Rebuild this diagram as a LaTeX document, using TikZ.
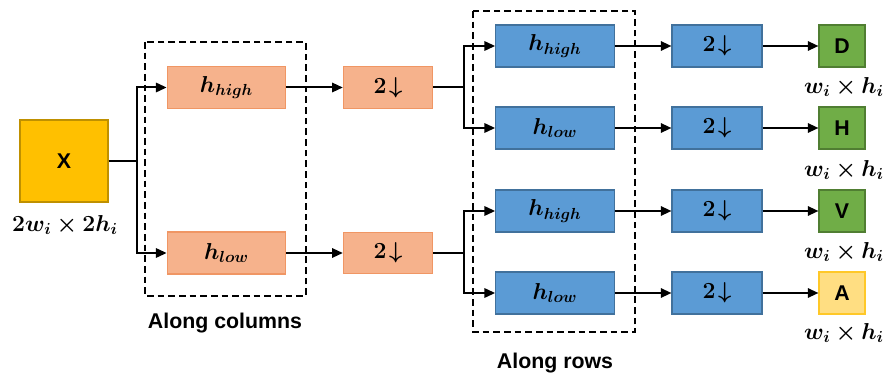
\documentclass[tikz,border=0pt]{standalone}
\usepackage{amsmath}
\usepackage{bm}
\usepackage{fontspec}
\setsansfont{Liberation Sans}
\usetikzlibrary{arrows.meta}

\definecolor{xgold}{RGB}{255,192,0}
\definecolor{xgoldline}{RGB}{191,144,0}
\definecolor{pinkfill}{RGB}{246,178,140}
\definecolor{pinkline}{RGB}{240,150,100}
\definecolor{bluefill}{RGB}{91,155,213}
\definecolor{blueline}{RGB}{65,113,156}
\definecolor{greenfill}{RGB}{112,173,71}
\definecolor{greenline}{RGB}{80,126,50}
\definecolor{afill}{RGB}{255,222,130}
\definecolor{aline}{RGB}{255,200,40}

\tikzset{
  box/.style={draw, line width=0.8pt, inner sep=0pt, font=\fontsize{18}{21}\selectfont},
  colbox/.style={box, fill=pinkfill, draw=pinkline, minimum width=89pt, minimum height=31.5pt},
  downpink/.style={box, fill=pinkfill, draw=pinkline, minimum width=67pt, minimum height=31pt},
  rowbox/.style={box, fill=bluefill, draw=blueline, minimum width=89pt, minimum height=31.5pt},
  downblue/.style={box, fill=bluefill, draw=blueline, minimum width=67.5pt, minimum height=31.5pt},
  outbox/.style={box, fill=greenfill, draw=greenline, minimum width=34.5pt, minimum height=31.5pt, font=\fontsize{16}{19}\selectfont\sffamily\bfseries},
  sizelbl/.style={font=\fontsize{16.5}{19}\selectfont},
  grouplbl/.style={font=\fontsize{16}{19}\selectfont\sffamily\bfseries},
  grp/.style={draw, line width=1pt, dash pattern=on 5pt off 3pt},
  conn/.style={line width=1.5pt, -{Triangle[length=8pt,width=7pt]}},
  wire/.style={line width=1.5pt}
}

\begin{document}
\begin{tikzpicture}[x=0.75pt,y=-0.75pt]
  \useasboundingbox (0,0) rectangle (884,374);

  % input
  \node[box, fill=xgold, draw=xgoldline, minimum width=66pt, minimum height=61.5pt,
        font=\fontsize{16}{19}\selectfont\sffamily\bfseries] (x) at (64,161) {X};
  \node[sizelbl] (xsize) at (65,225) {$\bm{2w_i\times 2h_i}$};

  % along columns
  \draw[grp] (145,42) rectangle (306,296);
  \node[grouplbl] (colname) at (225,323) {Along columns};
  \node[colbox] (chigh) at (226.5,87.5) {$\bm{h_{high}}$};
  \node[colbox] (clow) at (226.5,253) {$\bm{h_{low}}$};
  \node[downpink] (dhigh) at (388,87.5) {$\bm{2\!\downarrow}$};
  \node[downpink] (dlow) at (388,253) {$\bm{2\!\downarrow}$};

  % along rows
  \draw[grp] (473,11) rectangle (635,332);
  \node[grouplbl] (rowname) at (555,363) {Along rows};
  \foreach \n/\y/\t in {r1/46/high, r2/128/low, r3/211/high, r4/293/low}{
    \node[rowbox] (\n) at (555,\y) {$\bm{h_{\t}}$};
    \node[downblue] (d\n) at (717,\y) {$\bm{2\!\downarrow}$};
  }

  % outputs
  \node[outbox] (outD) at (842,46) {D};
  \node[outbox] (outH) at (842,128) {H};
  \node[outbox] (outV) at (842,211) {V};
  \node[outbox, fill=afill, draw=aline] (outA) at (842,293) {A};
  \foreach \y [count=\i] in {87,170,252,333}
    \node[sizelbl] (osize\i) at (844,\y) {$\bm{w_i\times h_i}$};

  % branch points
  \coordinate (sx) at (137,161);
  \coordinate (sh) at (464,87.5);
  \coordinate (sl) at (464,253);

  % connectors
  \draw[wire] (x) -- (sx);
  \draw[conn] (sx) |- (chigh);
  \draw[conn] (sx) |- (clow);
  \draw[conn] (chigh) -- (dhigh);
  \draw[conn] (clow) -- (dlow);
  \draw[wire] (dhigh) -- (sh);
  \draw[wire] (dlow) -- (sl);
  \draw[conn] (sh) |- (r1);
  \draw[conn] (sh) |- (r2);
  \draw[conn] (sl) |- (r3);
  \draw[conn] (sl) |- (r4);
  \foreach \n in {r1,r2,r3,r4}
    \draw[conn] (\n) -- (d\n);
  \draw[conn] (dr1) -- (outD);
  \draw[conn] (dr2) -- (outH);
  \draw[conn] (dr3) -- (outV);
  \draw[conn] (dr4) -- (outA);
\end{tikzpicture}
\end{document}
